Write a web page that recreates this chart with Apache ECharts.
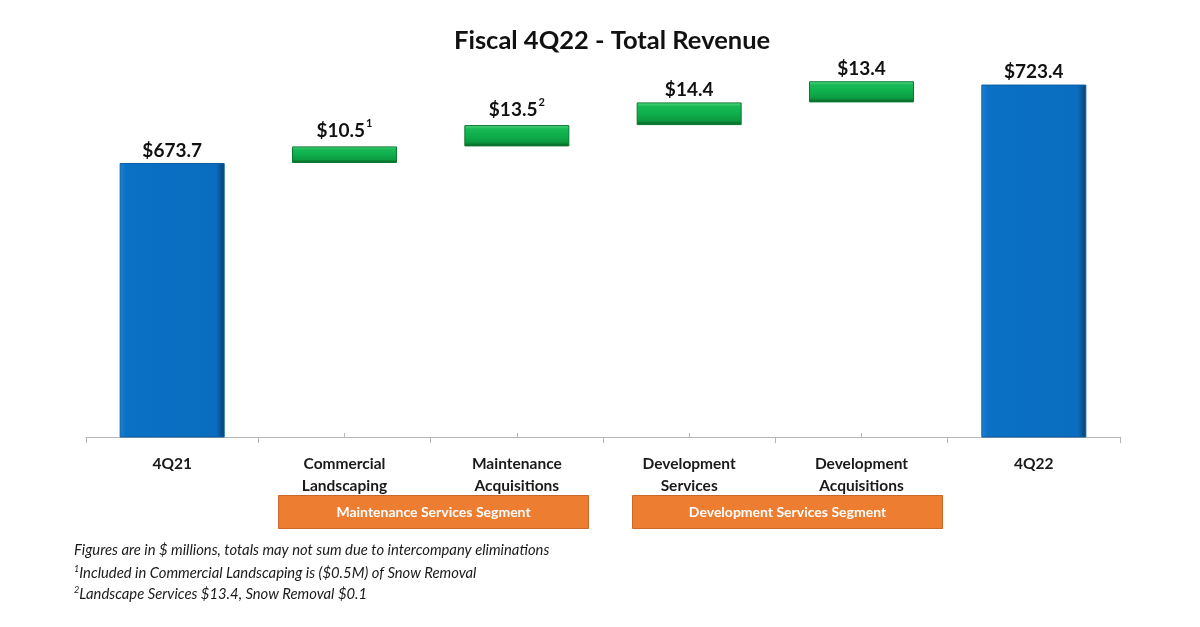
<!DOCTYPE html>
<html>
<head>
<meta charset="utf-8">
<script src="https://cdn.jsdelivr.net/npm/echarts@6/dist/echarts.min.js"></script>
<style>
  html, body { margin: 0; padding: 0; background: #ffffff; }
  #chart { width: 1200px; height: 627px; }
</style>
</head>
<body>
<div id="chart"></div>
<script>
// ---- data ----
const categories = ['4Q21', 'Commercial\nLandscaping', 'Maintenance\nAcquisitions', 'Development\nServices', 'Development\nAcquisitions', '4Q22'];
const values = [673.7, 10.5, 13.5, 14.4, 13.4, 723.4];
const isTotal = [true, false, false, false, false, true];
const footMarks = ['', '1', '2', '', '', ''];
const segments = ['Maintenance Services Segment', 'Development Services Segment'];
const footnotes = [
  ['', 'Figures are in $ millions, totals may not sum due to intercompany eliminations'],
  ['1', 'Included in Commercial Landscaping is ($0.5M) of Snow Removal'],
  ['2', 'Landscape Services $13.4, Snow Removal $0.1']
];

// waterfall bases
const bases = [];
let running = 0;
values.forEach((v, i) => {
  if (isTotal[i]) { bases.push(0); running = v; }
  else { bases.push(running); running += v; }
});

const FONT = 'Lato, "Open Sans", sans-serif';

const blueFill = new echarts.graphic.LinearGradient(0, 0, 1, 0, [
  { offset: 0, color: '#1b82d4' }, { offset: 0.06, color: '#0a71c5' },
  { offset: 0.92, color: '#0a6dbf' }, { offset: 1, color: '#0a3f6c' }
]);
const greenFill = new echarts.graphic.LinearGradient(0, 0, 0, 1, [
  { offset: 0, color: '#5cd98a' }, { offset: 0.18, color: '#17b955' },
  { offset: 0.5, color: '#0fae4c' }, { offset: 0.8, color: '#0b9a40' },
  { offset: 1, color: '#075a24' }
]);

function segBox(x, label) {
  return {
    type: 'rect', left: x, top: 495,
    shape: { width: 310, height: 33 },
    style: { fill: '#ed7d31', stroke: '#c9682a', lineWidth: 1 },
    textContent: {
      style: { text: label, fontFamily: FONT, fontSize: 14, fontWeight: 'bold', fill: '#ffffff' }
    },
    textConfig: { position: 'inside' }
  };
}

const chart = echarts.init(document.getElementById('chart'), null, { renderer: 'canvas' });

chart.setOption({
  animation: false,
  backgroundColor: '#ffffff',
  title: {
    text: 'Fiscal 4Q22 - Total Revenue',
    left: 449,
    top: 23,
    textStyle: { fontFamily: FONT, fontSize: 25.5, fontWeight: 'bold', color: '#111111' }
  },
  grid: { left: 86, right: 80, top: 42.6, bottom: 190 },
  xAxis: [{
    type: 'category',
    data: categories,
    axisLine: { lineStyle: { color: '#b5b5b5', width: 1 } },
    axisTick: { show: true, length: 6, lineStyle: { color: '#b5b5b5' } },
    axisLabel: {
      fontFamily: FONT, fontSize: 15.5, fontWeight: 'bold', color: '#1a1a1a',
      lineHeight: 22, margin: 16, interval: 0
    }
  }, {
    type: 'category',
    data: categories,
    position: 'bottom',
    axisLine: { show: false },
    axisTick: { show: true, alignWithLabel: true, inside: true, length: 4, lineStyle: { color: '#b5b5b5' } },
    axisLabel: { show: false }
  }],
  yAxis: {
    type: 'value', min: 500, max: 750, show: false,
    splitLine: { show: false }
  },
  series: [{
    type: 'bar',
    stack: 'wf',
    barWidth: 105,
    silent: true,
    itemStyle: { color: 'transparent' },
    data: bases
  }, {
    type: 'bar',
    stack: 'wf',
    barWidth: 105,
    data: values.map((v, i) => ({
      value: v,
      itemStyle: isTotal[i]
        ? { color: blueFill, borderColor: '#0b5da3', borderWidth: 1 }
        : { color: greenFill, borderColor: '#0a7a30', borderWidth: 1 }
    })),
    label: {
      show: true,
      position: 'top',
      distance: 3,
      formatter: p => '{v|$' + p.value.toFixed(1) + '}' + (footMarks[p.dataIndex] ? '{s|' + footMarks[p.dataIndex] + '}' : ''),
      rich: {
        v: { fontFamily: FONT, fontSize: 19, fontWeight: 'bold', color: '#111111' },
        s: { fontFamily: FONT, fontSize: 11, fontWeight: 'bold', color: '#111111', padding: [0, 0, 14, 1] }
      }
    }
  }],
  graphic: [
    segBox(278, segments[0]),
    segBox(632, segments[1]),
    ...footnotes.map((f, i) => ({
      type: 'text', left: 74, top: 543 + i * 21.5,
      style: {
        text: (f[0] ? '{s|' + f[0] + '}' : '') + '{t|' + f[1] + '}',
        rich: {
          t: { fontFamily: FONT, fontSize: 14.8, fontStyle: 'italic', fill: '#1a1a1a', lineHeight: 20 },
          s: { fontFamily: FONT, fontSize: 9, fontStyle: 'italic', fill: '#1a1a1a', padding: [0, 0, 8, 0] }
        }
      }
    }))
  ]
});
</script>
</body>
</html>
